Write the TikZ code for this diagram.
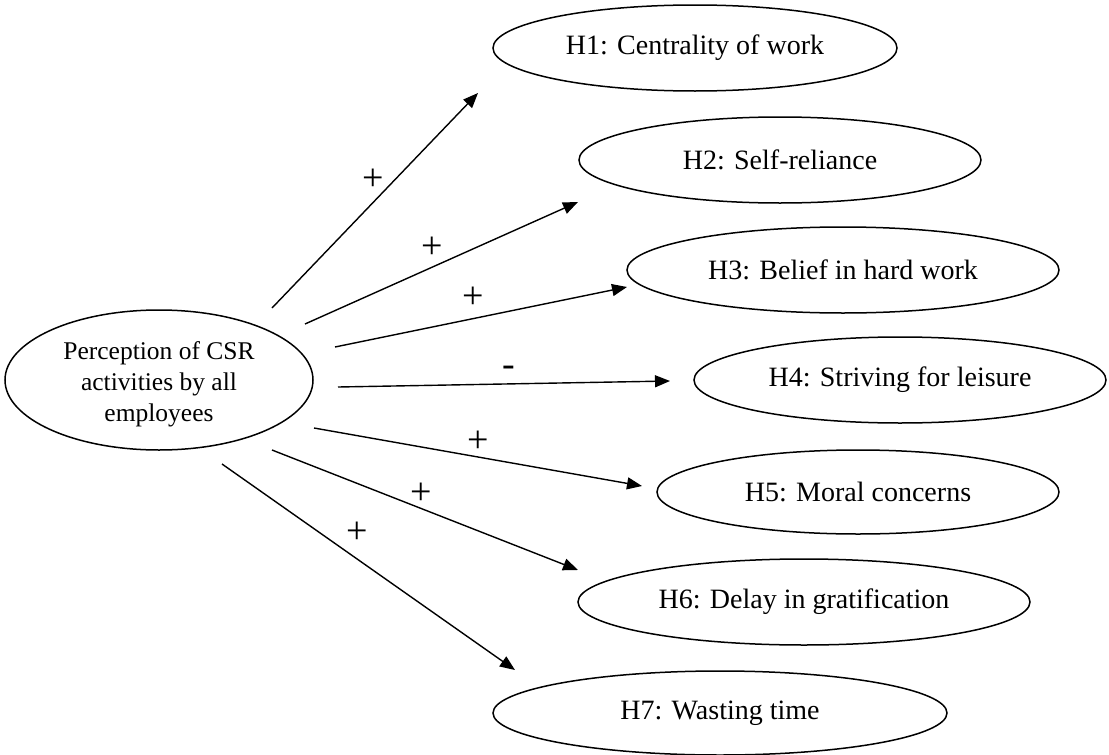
\documentclass[tikz,border=0pt]{standalone}
\usepackage{fontspec}
\setmainfont{Liberation Serif}
\usetikzlibrary{shapes.geometric,arrows.meta}
\begin{document}
\begin{tikzpicture}[x=1pt,y=-1pt,
  hyp/.style={draw,ellipse,line width=1.5pt,inner sep=0pt,font=\fontsize{28}{34}\selectfont},
  arr/.style={line width=1.4pt,-{Triangle[length=15pt,width=12pt]}},
  sign/.style={font=\fontsize{38}{40}\selectfont,inner sep=0pt}]
\useasboundingbox (0,0) rectangle (1109,755);
\node[hyp,minimum width=308pt,minimum height=140pt] (L) at (159,380) {};
\node[align=center,font=\fontsize{25.5}{31}\selectfont,inner sep=0pt] (Lt) at (159,384) {Perception of CSR\\activities by all\\employees};
\node[hyp,minimum width=404pt,minimum height=86pt] (H1) at (695,48) {H1: Centrality of work};
\node[hyp,minimum width=402pt,minimum height=86pt] (H2) at (780,160) {H2: Self-reliance};
\node[hyp,minimum width=432pt,minimum height=86pt] (H3) at (843,270) {H3: Belief in hard work};
\node[hyp,minimum width=412pt,minimum height=86pt] (H4) at (900,380) {H4: Striving for leisure};
\node[hyp,minimum width=402pt,minimum height=84pt] (H5) at (858,492) {H5: Moral concerns};
\node[hyp,minimum width=452pt,minimum height=86pt] (H6) at (804,602) {H6: Delay in gratification};
\node[hyp,minimum width=454pt,minimum height=84pt] (H7) at (720,713) {H7: Wasting time};
\coordinate (s1) at (272,308); \coordinate (e1) at (478,93);
\coordinate (s2) at (305,324); \coordinate (e2) at (578,202);
\coordinate (s3) at (335,347); \coordinate (e3) at (627,287);
\coordinate (s4) at (338,387); \coordinate (e4) at (670,381);
\coordinate (s5) at (314,428); \coordinate (e5) at (642,486);
\coordinate (s6) at (272,450); \coordinate (e6) at (578,570);
\coordinate (s7) at (222,464); \coordinate (e7) at (515,670);
\draw[arr] (s1) -- (e1);
\draw[arr] (s2) -- (e2);
\draw[arr] (s3) -- (e3);
\draw[arr] (s4) -- (e4);
\draw[arr] (s5) -- (e5);
\draw[arr] (s6) -- (e6);
\draw[arr] (s7) -- (e7);
\node[sign] (p1) at (373,180) {+};
\node[sign] (p2) at (432,248) {+};
\node[sign] (p3) at (473,298) {+};
\node[sign] (p4) at (509,371) {-};
\node[sign] (p5) at (478,442) {+};
\node[sign] (p6) at (421,494) {+};
\node[sign] (p7) at (357,533) {+};
\end{tikzpicture}
\end{document}
